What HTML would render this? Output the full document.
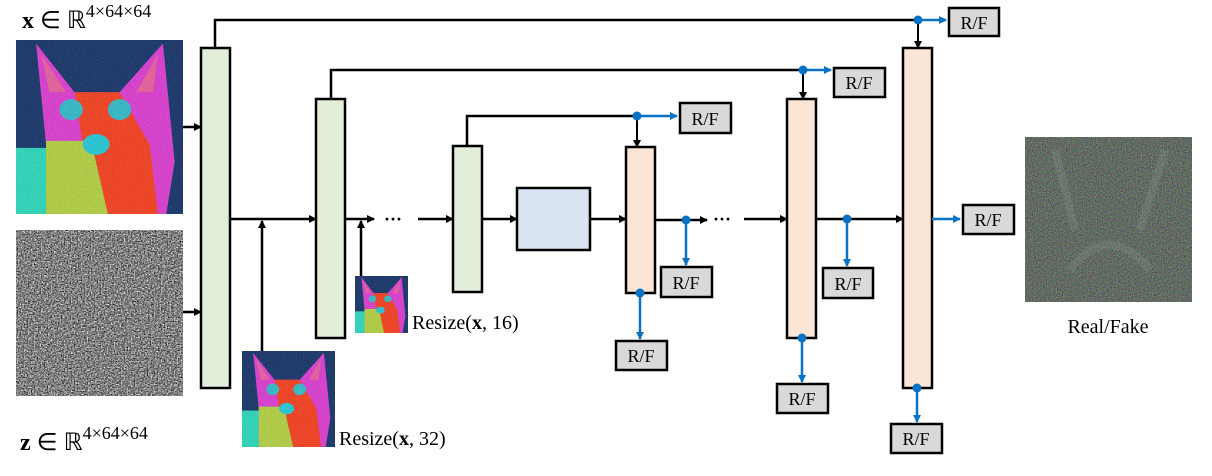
<!DOCTYPE html>
<html><head><meta charset="utf-8"><style>
body{margin:0;background:#fff;}
svg text{font-family:"Liberation Serif",serif;}
</style></head><body>
<svg width="1212" height="471" viewBox="0 0 1212 471" xmlns="http://www.w3.org/2000/svg">
<defs>
<marker id="ak" markerWidth="8" markerHeight="8" refX="7" refY="4" orient="auto" markerUnits="userSpaceOnUse"><path d="M0,0 L8,4 L0,8 z" fill="#000"/></marker>
<marker id="ab" markerWidth="8" markerHeight="8" refX="7" refY="4" orient="auto" markerUnits="userSpaceOnUse"><path d="M0,0 L8,4 L0,8 z" fill="#0a72c4"/></marker>
<filter id="noise" x="0" y="0" width="100%" height="100%" color-interpolation-filters="sRGB"><feTurbulence type="fractalNoise" baseFrequency="0.7" numOctaves="2" seed="3"/><feColorMatrix type="matrix" values="1.0 1.0 0 0 -0.5  1.0 1.0 0 0 -0.5  1.0 1.0 0 0 -0.5  0 0 0 0 1"/></filter>
<filter id="n2" x="0" y="0" width="100%" height="100%" color-interpolation-filters="sRGB"><feTurbulence type="fractalNoise" baseFrequency="0.8" numOctaves="2" seed="7"/><feColorMatrix type="matrix" values="1.5 0 0 0 -0.25  0 1.5 0 0 -0.25  0 0 1.5 0 -0.25  0 0 0 0 1"/></filter>
<symbol id="cat" viewBox="0 0 100 100" preserveAspectRatio="none">
<rect width="100" height="100" fill="#10306a"/>
<rect x="0" y="62" width="20" height="38" fill="#28e0c0"/>
<path d="M12,2 L35,30 L62,30 L88,2 L95,70 L90,100 L18,100 L18,60 Z" fill="#e43ad8"/>
<path d="M35,30 L62,30 L80,60 L85,100 L45,100 L40,60 Z" fill="#ff3d1a"/>
<path d="M18,58 L45,58 L55,100 L18,100 Z" fill="#b8d840"/>
<ellipse cx="33" cy="40" rx="7" ry="6" fill="#30c0d0"/>
<ellipse cx="62" cy="40" rx="7" ry="6" fill="#30c0d0"/>
<ellipse cx="48" cy="60" rx="8" ry="6" fill="#20d0e0"/>
<path d="M15,8 L30,30 L20,30 Z" fill="#f060a0"/>
<path d="M85,8 L72,30 L82,30 Z" fill="#f060a0"/>
</symbol>
</defs>

<use href="#cat" x="16" y="40" width="167" height="174"/>
<rect x="16" y="40" width="167" height="174" filter="url(#n2)" opacity="0.15"/>
<rect x="16" y="230" width="167" height="166" fill="#777"/>
<rect x="16" y="230" width="167" height="166" filter="url(#noise)"/>
<text x="22" y="28" font-size="24"><tspan font-weight="bold">x</tspan> ∈ ℝ<tspan font-size="18" dy="-11">4×64×64</tspan></text>
<text x="20" y="450" font-size="24"><tspan font-weight="bold">z</tspan> ∈ ℝ<tspan font-size="18" dy="-11">4×64×64</tspan></text>

<g stroke="#000" stroke-width="2.5" fill="none">
<line x1="183" y1="127" x2="201" y2="127" marker-end="url(#ak)"/>
<line x1="183" y1="312" x2="201" y2="312" marker-end="url(#ak)"/>
<polyline points="215,48 215,20 918,20"/>
<polyline points="331,99 331,70 803,70"/>
<polyline points="467,146 467,116 637,116"/>
<line x1="918" y1="20" x2="918" y2="48" marker-end="url(#ak)" stroke-width="2"/>
<line x1="803" y1="70" x2="803" y2="99" marker-end="url(#ak)" stroke-width="2"/>
<line x1="637" y1="116" x2="637" y2="147" marker-end="url(#ak)" stroke-width="2"/>
<line x1="230" y1="219" x2="316" y2="219" marker-end="url(#ak)"/>
<line x1="345" y1="219" x2="374" y2="219" marker-end="url(#ak)"/>
<line x1="418" y1="219" x2="453" y2="219" marker-end="url(#ak)"/>
<line x1="482" y1="219" x2="517" y2="219" marker-end="url(#ak)"/>
<line x1="590" y1="219" x2="626" y2="219" marker-end="url(#ak)"/>
<line x1="655" y1="220" x2="707" y2="220" marker-end="url(#ak)"/>
<line x1="744" y1="219" x2="787" y2="219" marker-end="url(#ak)"/>
<line x1="816" y1="219" x2="903" y2="219" marker-end="url(#ak)"/>
<line x1="262" y1="351" x2="262" y2="221" marker-end="url(#ak)"/>
<line x1="361" y1="276" x2="361" y2="221" marker-end="url(#ak)"/>
</g>
<text x="384" y="225" font-size="18" font-weight="bold">···</text>
<text x="713" y="225" font-size="18" font-weight="bold">···</text>

<g stroke="#000" stroke-width="2.5">
<rect x="201" y="48" width="29" height="340" fill="#e2eed9"/>
<rect x="316" y="99" width="29" height="239" fill="#e2eed9"/>
<rect x="453" y="146" width="29" height="146" fill="#e2eed9"/>
<rect x="517" y="188" width="73" height="62" fill="#dae3f2"/>
<rect x="626" y="147" width="29" height="146" fill="#fbe5d6"/>
<rect x="787" y="99" width="29" height="239" fill="#fbe5d6"/>
<rect x="903" y="48" width="29" height="340" fill="#fbe5d6"/>
</g>

<g stroke="#0a72c4" stroke-width="2.5" fill="none">
<line x1="918" y1="20" x2="946" y2="20" marker-end="url(#ab)"/>
<line x1="803" y1="70" x2="831" y2="70" marker-end="url(#ab)"/>
<line x1="637" y1="116" x2="677" y2="116" marker-end="url(#ab)"/>
<line x1="932" y1="219" x2="960" y2="219" marker-end="url(#ab)"/>
<line x1="686" y1="220" x2="686" y2="265" marker-end="url(#ab)"/>
<line x1="847" y1="219" x2="847" y2="266" marker-end="url(#ab)"/>
<line x1="640" y1="293" x2="640" y2="339" marker-end="url(#ab)"/>
<line x1="802" y1="338" x2="802" y2="382" marker-end="url(#ab)"/>
<line x1="917" y1="388" x2="917" y2="422" marker-end="url(#ab)"/>
</g>
<g fill="#0a72c4">
<circle cx="918" cy="20" r="4.5"/><circle cx="803" cy="70" r="4.5"/><circle cx="637" cy="116" r="4.5"/>
<circle cx="686" cy="220" r="4.5"/><circle cx="847" cy="219" r="4.5"/>
<circle cx="640" cy="293" r="4.5"/><circle cx="802" cy="338" r="4.5"/><circle cx="917" cy="388" r="4.5"/>
</g>

<g stroke="#000" stroke-width="2.5" fill="#d9d9d9">
<rect x="949" y="8" width="50" height="28"/>
<rect x="834" y="68" width="51" height="29"/>
<rect x="680" y="103" width="51" height="30"/>
<rect x="963" y="205" width="51" height="29"/>
<rect x="661" y="267" width="51" height="30"/>
<rect x="616" y="341" width="51" height="29"/>
<rect x="823" y="268" width="50" height="30"/>
<rect x="777" y="384" width="51" height="29"/>
<rect x="891" y="424" width="51" height="29"/>
</g>
<g font-size="18" text-anchor="middle">
<text x="974" y="29">R/F</text>
<text x="859" y="89">R/F</text>
<text x="705" y="125">R/F</text>
<text x="988" y="226">R/F</text>
<text x="686" y="289">R/F</text>
<text x="641" y="362">R/F</text>
<text x="848" y="290">R/F</text>
<text x="802" y="405">R/F</text>
<text x="916" y="445">R/F</text>
</g>

<use href="#cat" x="355" y="276" width="53" height="57"/>
<rect x="355" y="276" width="53" height="57" filter="url(#n2)" opacity="0.15"/>
<use href="#cat" x="242" y="351" width="93" height="96"/>
<rect x="242" y="351" width="93" height="96" filter="url(#n2)" opacity="0.15"/>
<text x="412" y="329" font-size="20">Resize(<tspan font-weight="bold">x</tspan>, 16)</text>
<text x="339" y="445" font-size="20">Resize(<tspan font-weight="bold">x</tspan>, 32)</text>

<rect x="1025" y="137" width="167" height="165" fill="#4a5a4c"/>
<rect x="1025" y="137" width="167" height="165" filter="url(#n2)" opacity="0.45"/>
<path d="M1055,150 L1075,230 M1165,150 L1140,230 M1070,270 Q1108,220 1150,270" stroke="#8a9a90" stroke-width="8" fill="none" opacity="0.25"/>
<text x="1108" y="333" font-size="20" text-anchor="middle">Real/Fake</text>
</svg>
</body></html>
